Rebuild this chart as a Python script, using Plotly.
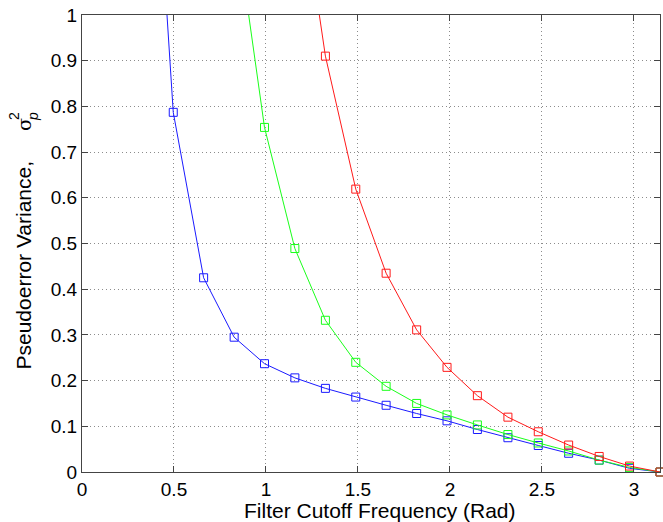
import plotly.graph_objects as go

# ---- data ----
x_blue = [0.331, 0.496, 0.661, 0.827, 0.992, 1.157, 1.323, 1.488, 1.653, 1.819,
          1.984, 2.149, 2.315, 2.480, 2.645, 2.811, 2.976, 3.1416]
y_blue = [1.82, 0.787, 0.425, 0.295, 0.237, 0.206, 0.183, 0.164, 0.146, 0.128,
          0.112, 0.093, 0.075, 0.058, 0.041, 0.026, 0.008, 0.0]

x_green = [0.827, 0.992, 1.157, 1.323, 1.488, 1.653, 1.819, 1.984, 2.149, 2.315,
           2.480, 2.645, 2.811, 2.976, 3.1416]
y_green = [1.226, 0.754, 0.489, 0.332, 0.240, 0.1875, 0.150, 0.125, 0.103, 0.082,
           0.0635, 0.046, 0.026, 0.010, 0.0]

x_red = [1.157, 1.323, 1.488, 1.653, 1.819, 1.984, 2.149, 2.315, 2.480, 2.645,
         2.811, 2.976, 3.1416]
y_red = [1.363, 0.910, 0.619, 0.435, 0.311, 0.229, 0.167, 0.120, 0.088, 0.059,
         0.034, 0.013, 0.0]

x_ticks = [0, 0.5, 1, 1.5, 2, 2.5, 3]
x_ticklabels = ["0", "0.5", "1", "1.5", "2", "2.5", "3"]
y_ticks = [0, 0.1, 0.2, 0.3, 0.4, 0.5, 0.6, 0.7, 0.8, 0.9, 1]
y_ticklabels = ["0", "0.1", "0.2", "0.3", "0.4", "0.5", "0.6", "0.7", "0.8", "0.9", "1"]

x_title = "Filter Cutoff Frequency (Rad)"
y_title = "Pseudoerror Variance,"

# ---- layout geometry (pixels) ----
W, H = 663, 522
L, R, T, B = 82, 3, 15, 50
PW = W - L - R
PH = H - T - B


def px(xp):
    return (xp - L) / PW


def py(yp):
    return (H - B - yp) / PH


FONT = "Liberation Sans, Arial, sans-serif"

fig = go.Figure()
for xs, ys, col in [(x_blue, y_blue, "#1a1aff"),
                    (x_green, y_green, "#1aff1a"),
                    (x_red, y_red, "#ff1a1a")]:
    fig.add_trace(go.Scatter(
        x=xs, y=ys, mode="lines+markers",
        line=dict(color=col, width=1),
        marker=dict(symbol="square-open", size=8, color=col, line=dict(width=1, color=col)),
        cliponaxis=False, showlegend=False, hoverinfo="skip",
    ))

axis_common = dict(
    showline=True, linecolor="#444444", linewidth=1, mirror="ticks",
    ticks="inside", ticklen=6, tickcolor="#444444",
    showgrid=True, gridcolor="#8c8c8c", griddash="1px,3px", gridwidth=1,
    zeroline=False, automargin=False,
    tickfont=dict(family=FONT, size=19, color="#000000"),
)

fig.update_layout(
    width=W, height=H,
    margin=dict(l=L, r=R, t=T, b=B, autoexpand=False),
    paper_bgcolor="white", plot_bgcolor="white",
    xaxis=dict(range=[0, 3.1416], tickvals=x_ticks, ticktext=x_ticklabels, **axis_common),
    yaxis=dict(range=[0, 1], tickvals=y_ticks, ticktext=y_ticklabels, **axis_common),
    font=dict(family=FONT, color="#000000"),
)

# axis titles as annotations
fig.add_annotation(xref="paper", yref="paper", x=px(380), y=py(510),
                   text=x_title, showarrow=False, xanchor="center", yanchor="middle",
                   font=dict(family=FONT, size=21, color="#000000"))
fig.add_annotation(xref="paper", yref="paper", x=px(23), y=py(372),
                   text=y_title, showarrow=False, xanchor="center", yanchor="bottom",
                   textangle=-90, font=dict(family=FONT, size=21, color="#000000"))
fig.add_annotation(xref="paper", yref="paper", x=px(24), y=py(125),
                   text="σ", showarrow=False, xanchor="center", yanchor="middle",
                   textangle=-90, font=dict(family="DejaVu Serif, serif", size=19, color="#000000"))
fig.add_annotation(xref="paper", yref="paper", x=px(14), y=py(116),
                   text="2", showarrow=False, xanchor="center", yanchor="middle",
                   textangle=-90, font=dict(family=FONT, size=14, color="#000000"))
fig.add_annotation(xref="paper", yref="paper", x=px(33), y=py(117),
                   text="<i>p</i>", showarrow=False, xanchor="center", yanchor="middle",
                   textangle=-90, font=dict(family=FONT, size=14, color="#000000"))

fig.write_html("out.html", config={"displayModeBar": False},
               post_script="document.body.style.margin='0';document.body.style.overflow='hidden';")
